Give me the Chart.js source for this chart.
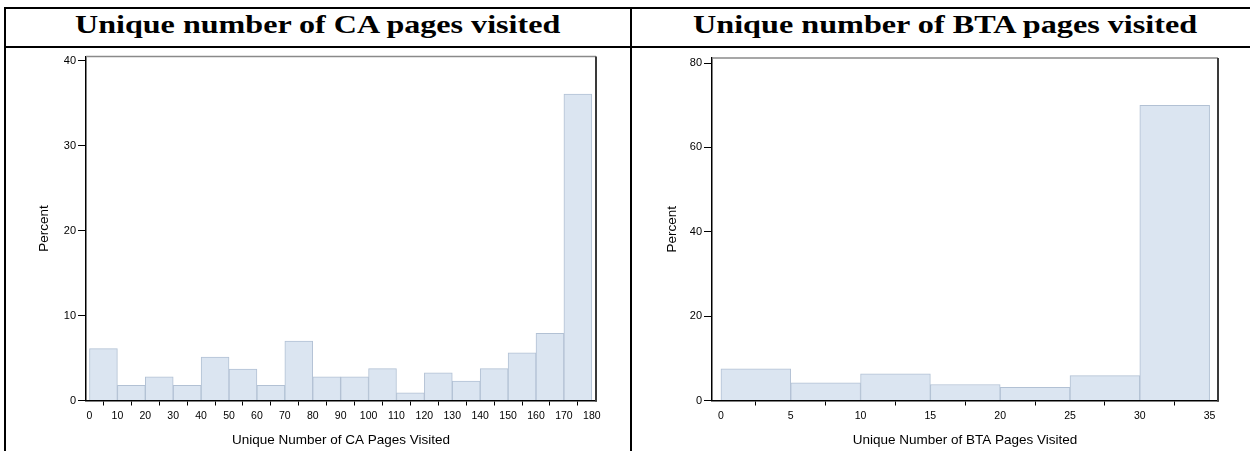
<!DOCTYPE html>
<html>
<head>
<meta charset="utf-8">
<script src="https://cdn.jsdelivr.net/npm/chart.js@4.4.1/dist/chart.umd.min.js"></script>
<style>
  html, body { margin:0; padding:0; background:#fff; }
  body { width:1250px; height:451px; position:relative; overflow:hidden; }
  .line { position:absolute; background:#000; }
  .title { position:absolute; font-family:"Liberation Serif","Times New Roman",serif; font-weight:bold;
           font-size:26px; line-height:26px; white-space:nowrap; color:#000; transform-origin:0 0; }
  canvas { position:absolute; }
</style>
</head>
<body>
<div class="line" style="left:4px;top:7px;width:1246px;height:2px;"></div>
<div class="line" style="left:4px;top:46px;width:1246px;height:2px;"></div>
<div class="line" style="left:4px;top:7px;width:2px;height:444px;"></div>
<div class="line" style="left:630px;top:7px;width:2px;height:444px;"></div>
<div class="title" id="t1" style="left:75px;top:12px;">Unique number of CA pages visited</div>
<div class="title" id="t2" style="left:693px;top:12px;">Unique number of BTA pages visited</div>
<div style="position:absolute;left:7px;top:48px;width:622px;height:403px;"><canvas id="c1" width="622" height="403"></canvas></div>
<div style="position:absolute;left:633px;top:48px;width:617px;height:403px;"><canvas id="c2" width="617" height="403"></canvas></div>
<script>
// ---- Data ----
const caBinStarts = [0,10,20,30,40,50,60,70,80,90,100,110,120,130,140,150,160,170];
const caPercent   = [6.1,1.8,2.8,1.8,5.1,3.7,1.8,7.0,2.8,2.8,3.75,0.9,3.25,2.3,3.75,5.6,7.9,36.1];
const caXTicks    = [0,10,20,30,40,50,60,70,80,90,100,110,120,130,140,150,160,170,180];
const caYTicks    = [0,10,20,30,40];

const btaBinStarts = [0,5,10,15,20,25,30];
const btaPercent   = [7.5,4.2,6.3,3.8,3.1,5.9,70.0];
const btaXTicks    = [0,5,10,15,20,25,30,35];
const btaYTicks    = [0,20,40,60,80];

// stretch titles to match reference width
function fitTitle(id, w){ const el=document.getElementById(id); const s=w/el.offsetWidth; el.style.transform='scaleX('+s+')'; }
fitTitle('t1', 485);
fitTitle('t2', 504);

const framePlugin = {
  id:'frame',
  afterDraw(chart){
    const {ctx, chartArea:a} = chart;
    ctx.save();
    ctx.strokeStyle='#8a8a8a'; ctx.lineWidth=1.5;
    ctx.beginPath(); ctx.moveTo(a.left, a.top); ctx.lineTo(a.right, a.top); ctx.stroke();
    ctx.strokeStyle='#3a3a3a'; ctx.lineWidth=2;
    ctx.beginPath(); ctx.moveTo(a.right, a.top); ctx.lineTo(a.right, a.bottom+1); ctx.stroke();
    ctx.restore();
  }
};

function makeHist(id, starts, values, binW, xTicks, yTicks, xMin, xMax, yMax, xTitle, pad, yAxisW, xAxisH, yTitlePad){
  const pts = starts.map((s,i)=>({x:s+binW/2, y:values[i]}));
  new Chart(document.getElementById(id), {
    type:'bar',
    data:{ datasets:[{ data:pts, backgroundColor:'rgb(219,229,241)', borderColor:'rgb(178,193,212)',
                       borderWidth:1, barPercentage:1, categoryPercentage:1 }] },
    options:{
      responsive:false, animation:false,
      layout:{ padding:pad },
      plugins:{ legend:{display:false}, tooltip:{enabled:false}, title:{display:false} },
      scales:{
        x:{ type:'linear', min:xMin, max:xMax, offset:false,
            afterBuildTicks(s){ s.ticks = xTicks.map(v=>({value:v})); },
            afterFit(s){ s.height = xAxisH; },
            grid:{ display:true, drawOnChartArea:false, drawTicks:true, tickLength:5, color:'#000', lineWidth:1 },
            border:{ display:true, color:'#000', width:1.5 },
            ticks:{ color:'#000', font:{family:'"Liberation Sans", Arial, sans-serif', size:10.5}, padding:4, maxRotation:0, autoSkip:false },
            title:{ display:true, text:xTitle, color:'#000', font:{family:'"Liberation Sans", Arial, sans-serif', size:13.5}, padding:{top:0,bottom:3} }
        },
        y:{ type:'linear', min:0, max:yMax,
            afterBuildTicks(s){ s.ticks = yTicks.map(v=>({value:v})); },
            afterFit(s){ s.width = yAxisW; },
            grid:{ display:true, drawOnChartArea:false, drawTicks:true, tickLength:8, color:'#000', lineWidth:1 },
            border:{ display:true, color:'#000', width:1.5 },
            ticks:{ color:'#000', font:{family:'"Liberation Sans", Arial, sans-serif', size:11}, padding:2, autoSkip:false },
            title:{ display:true, text:'Percent', color:'#000', font:{family:'"Liberation Sans", Arial, sans-serif', size:13.5}, padding:{top:yTitlePad,bottom:0} }
        }
      }
    },
    plugins:[framePlugin]
  });
}

makeHist('c1', caBinStarts, caPercent, 10, caXTicks, caYTicks, -1.25, 181.5, 40.5,
         'Unique Number of CA Pages Visited', {left:0,right:33,top:7,bottom:0}, 79, 50.5, 29);
makeHist('c2', btaBinStarts, btaPercent, 5, btaXTicks, btaYTicks, -0.64, 35.6, 81.2,
         'Unique Number of BTA Pages Visited', {left:0,right:32,top:10,bottom:0}, 79, 50.5, 31);
</script>
</body>
</html>
